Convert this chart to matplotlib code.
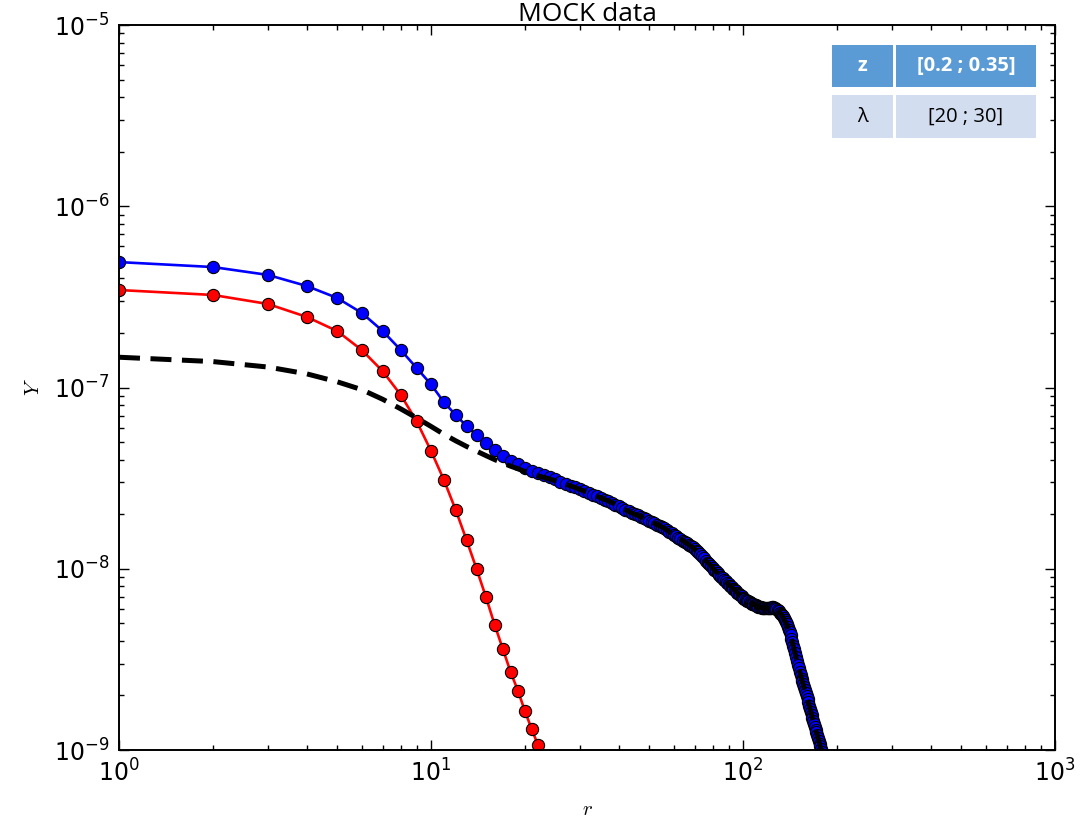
import numpy as np
import matplotlib
matplotlib.use("Agg")
import matplotlib.pyplot as plt
from matplotlib.patches import Rectangle

# ---------------------------------------------------------------------------
# Radial profiles (values in units of 1e-9)
# ---------------------------------------------------------------------------
UNIT = 1e-9

# model curve at integer radii r = 1 .. 182
model = [
    146.9, 139.0, 129.7, 118.9, 107.6, 97.3, 86.1, 76.2, 67.9, 61.0,
    55.2, 50.8, 47.3, 44.5, 42.1, 40.0, 38.3, 36.8, 35.6, 34.4,
    33.5, 32.6, 31.9, 31.3, 30.6, 30.0, 29.3, 28.6, 28.1, 27.4,
    26.8, 26.2, 25.6, 25.1, 24.6, 24.1, 23.7, 23.2, 22.6, 22.1,
    21.6, 21.1, 20.7, 20.3, 20.0, 19.7, 19.4, 19.1, 18.7, 18.4,
    18.1, 17.8, 17.5, 17.3, 17.0, 16.7, 16.3, 16.0, 15.7, 15.4,
    15.1, 14.8, 14.6, 14.3, 14.1, 13.8, 13.6, 13.3, 13.1, 12.8,
    12.6, 12.3, 12.0, 11.7, 11.4, 11.1, 10.8, 10.6, 10.35, 10.1,
    9.89, 9.66, 9.44, 9.23, 9.02, 8.85, 8.69, 8.53, 8.38, 8.22,
    8.07, 7.93, 7.78, 7.64, 7.50, 7.38, 7.26, 7.14, 7.03, 6.92,
    6.84, 6.76, 6.68, 6.61, 6.53, 6.48, 6.43, 6.37, 6.32, 6.27,
    6.23, 6.19, 6.16, 6.12, 6.11, 6.09, 6.07, 6.05, 6.07, 6.07,
    6.08, 6.10, 6.11, 6.12, 6.14, 6.10, 6.05, 6.00, 5.91, 5.82,
    5.73, 5.64, 5.56, 5.47, 5.33, 5.21, 5.08, 4.95, 4.79, 4.62,
    4.47, 4.32, 4.12, 3.94, 3.76, 3.59, 3.42, 3.26, 3.10, 2.95,
    2.82, 2.71, 2.59, 2.48, 2.39, 2.30, 2.22, 2.14, 2.06, 1.98,
    1.90, 1.83, 1.76, 1.69, 1.63, 1.56, 1.505, 1.45, 1.39, 1.34,
    1.29, 1.25, 1.21, 1.16, 1.12, 1.08, 1.047, 1.01, 0.977, 0.944,
    0.912, 0.881,
]

# inner component at r = 1 .. 22
inner = [
    345, 324, 289, 245, 205, 161, 123, 91, 65, 44.7,
    30.9, 21.1, 14.4, 9.97, 6.98, 4.9, 3.6, 2.69, 2.12, 1.64,
    1.31, 1.07,
]

# measured profile: r = 1 .. 25 listed here, outer radii lie on the model curve
measured_inner = [
    492, 462, 418, 363, 312, 258, 205, 161, 128, 104,
    83, 70.5, 61.3, 54.7, 49.4, 45.2, 41.9, 39.5, 37.7, 36.0,
    34.8, 33.7, 32.7, 32.0, 31.2,
]
measured = measured_inner + model[len(measured_inner):]

r_model = np.arange(1, len(model) + 1)
r_inner = np.arange(1, len(inner) + 1)
r_meas = np.arange(1, len(measured) + 1)

y_model = np.array(model) * UNIT
y_inner = np.array(inner) * UNIT
y_meas = np.array(measured) * UNIT

x_major = [1e0, 1e1, 1e2, 1e3]
y_major = [1e-9, 1e-8, 1e-7, 1e-6, 1e-5]

table_rows = [("z", "[0.2 ; 0.35]"), ("\u03bb", "[20 ; 30]")]

# ---------------------------------------------------------------------------
plt.rcParams["mathtext.fontset"] = "cm"
plt.rcParams["font.family"] = "DejaVu Sans"

W, H = 1083, 826
fig = plt.figure(figsize=(W / 100, H / 100), dpi=100)
ax = fig.add_axes([119 / W, 1 - 750 / H, 936 / W, 725 / H])

ax.plot(r_inner, y_inner, "-o", color="red", lw=1.9, ms=8.8,
        mfc="red", mec="black", mew=0.8, zorder=2)
ax.plot(r_meas, y_meas, "-o", color="blue", lw=1.9, ms=8.8,
        mfc="blue", mec="black", mew=0.8, zorder=2.5)
ax.plot(r_model, y_model, color="black", lw=3.6, ls=(0, (4.2, 2.1)),
        zorder=3)

ax.set_xscale("log")
ax.set_yscale("log")
ax.set_xticks(x_major)
ax.set_yticks(y_major)
ax.set_xlim(1, 1000)
ax.set_ylim(1e-9, 1e-5)

for s in ax.spines.values():
    s.set_linewidth(1.4)
ax.tick_params(which="both", direction="in", top=True, right=True,
               width=1.0)
ax.tick_params(which="major", length=7, pad=7, labelsize=17)
ax.tick_params(which="minor", length=3.5, labelbottom=False,
               labelleft=False)

ax.set_xlabel("$r$", fontsize=15, labelpad=9)
ax.set_ylabel("$Y$", fontsize=15, labelpad=8)

fig.text(587 / W, 1 - 21 / H, "MOCK data", ha="center", va="baseline",
         family="Open Sans", fontsize=19)

# parameter box
def fx(px):
    return px / W

def fy(py):
    return 1 - py / H

cols = [(832, 893), (896, 1036)]
rows = [(45, 87), (95, 138)]
fills = ["#5B9BD5", "#D2DEEF"]
for (y0, y1), fill, labels in zip(rows, fills, table_rows):
    for (x0, x1), text in zip(cols, labels):
        fig.add_artist(Rectangle((fx(x0), fy(y1)), fx(x1) - fx(x0),
                                 fy(y0) - fy(y1), transform=fig.transFigure,
                                 facecolor=fill, edgecolor="none"))
        header = fill == "#5B9BD5"
        fig.text((fx(x0) + fx(x1)) / 2, (fy(y0) + fy(y1)) / 2, text,
                 ha="center", va="center", family="Open Sans",
                 fontsize=14.5, fontweight="bold" if header else "normal",
                 color="white" if header else "black")

fig.savefig("out.png", dpi=100)
